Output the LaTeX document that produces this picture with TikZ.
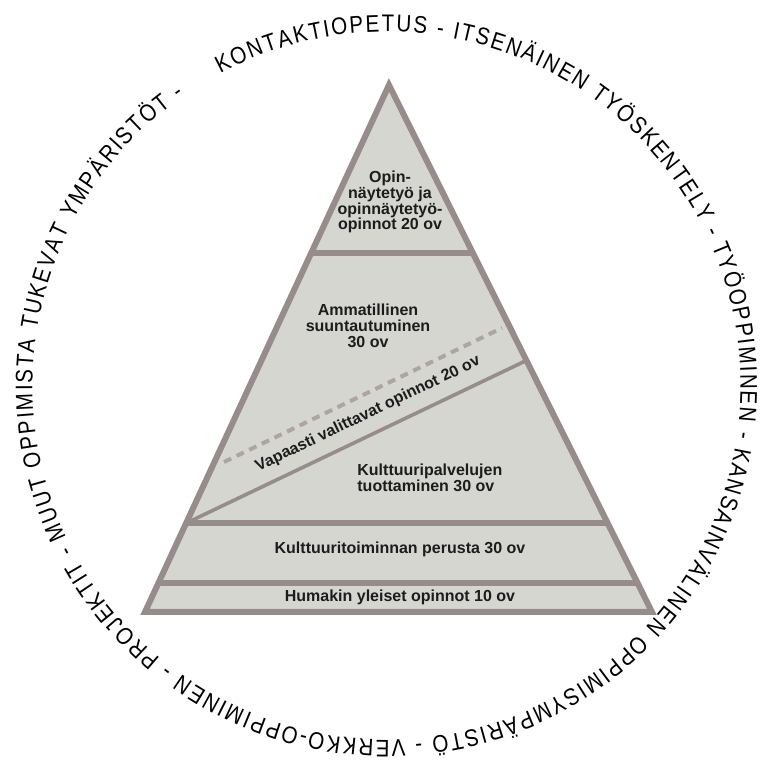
\documentclass[tikz,border=0pt]{standalone}
\usepackage{fontspec}
\setmainfont{Liberation Sans}
\newfontfamily\ringfont{Liberation Sans}[FakeStretch=0.86]
\usepackage{tikz}
\usetikzlibrary{calc,decorations.text}

\definecolor{edgegrey}{RGB}{150,140,138}
\definecolor{bandgrey}{RGB}{214,214,209}
\definecolor{dashgrey}{RGB}{172,165,162}
\definecolor{inkgrey}{RGB}{28,28,28}

\tikzset{
  bandtext/.style={font=\fontsize{8}{7.9}\selectfont\bfseries, text=inkgrey, align=center, inner sep=0pt},
  bandline/.style={draw=edgegrey, line width=3pt},
}

\begin{document}
\begin{tikzpicture}[x=0.5pt, y=0.5pt]
    \useasboundingbox (0,0) rectangle (767,766);
    % Corners
    \coordinate (apex) at (389,681);
    \coordinate (base-left) at (145,154);
    \coordinate (base-right) at (652,154);
    \coordinate (ring-centre) at (386.5,380);
    \coordinate (ring-start) at ($(ring-centre)+(118:354)$);

    % Pyramid
    \fill[bandgrey] (apex) -- (base-left) -- (base-right) -- cycle;
    \draw[bandline] ($(apex)!0.318!(base-left)$) -- ($(apex)!0.318!(base-right)$);
    \draw[bandline] ($(apex)!0.8314!(base-left)$) -- ($(apex)!0.8314!(base-right)$);
    \draw[bandline] ($(apex)!0.945!(base-left)$) -- ($(apex)!0.945!(base-right)$);
    \draw[draw=edgegrey, line width=1.8pt] ($(apex)!0.8314!(base-left)$) -- ($(apex)!0.5227!(base-right)$);
    \draw[draw=dashgrey, line width=2pt, dash pattern=on 4pt off 3pt] (224,304) -- (502,438);
    \draw[bandline, line join=miter] (apex) -- (base-left) -- (base-right) -- cycle;

    % Nodes
    \node (thesis) [bandtext] at (390,564) {Opin-\\näytetyö ja\\opinnäytetyö-\\opinnot 20 ov};
    \node (orientation) [bandtext] at (368,440) {Ammatillinen\\suuntautuminen\\30 ov};
    \node (elective) [bandtext, rotate=25.7] at (368,352) {Vapaasti valittavat opinnot 20 ov};
    \node (services) [bandtext, align=left, anchor=west] at (357,288) {Kulttuuripalvelujen\\tuottaminen 30 ov};
    \node (basics) [bandtext] at (400,217) {Kulttuuritoiminnan perusta 30 ov};
    \node (general) [bandtext] at (400,169) {Humakin yleiset opinnot 10 ov};

    % Ring
    \path[decorate, decoration={text along path, text align={fit to path},
        text={|\ringfont\fontsize{12}{14}\selectfont|KONTAKTIOPETUS - ITSENÄINEN TYÖSKENTELY - TYÖOPPIMINEN - KANSAINVÄLINEN OPPIMISYMPÄRISTÖ - VERKKO-OPPIMINEN - PROJEKTIT - MUUT OPPIMISTA TUKEVAT YMPÄRISTÖT -}}]
        (ring-start) arc[start angle=118, end angle=-235, radius=354];
\end{tikzpicture}
\end{document}
